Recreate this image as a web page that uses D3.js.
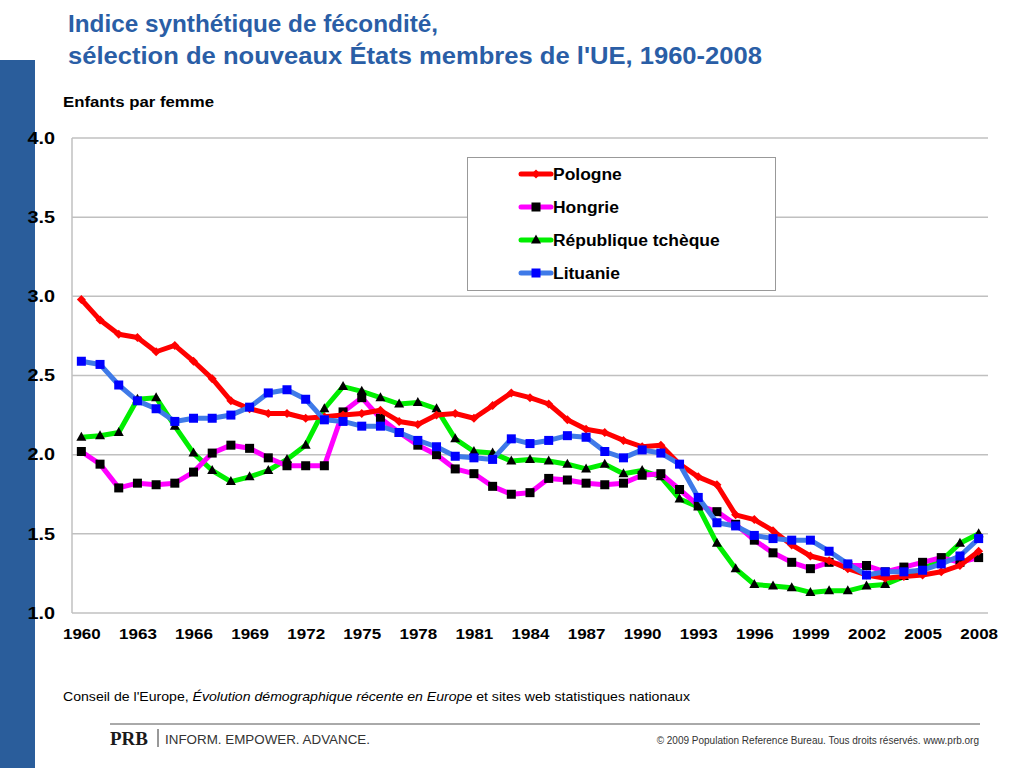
<!DOCTYPE html>
<html><head><meta charset="utf-8">
<script src="https://cdn.jsdelivr.net/npm/d3@7"></script>
<style>
body{margin:0;background:#fff;}
svg{display:block;font-family:"Liberation Sans",Arial,sans-serif;}
</style></head>
<body><svg id="c" width="1024" height="768"></svg>
<script>
const years = d3.range(1960, 2009);
const xTickYears = [1960,1963,1966,1969,1972,1975,1978,1981,1984,1987,1990,1993,1996,1999,2002,2005,2008];
const yTicks = [1.0,1.5,2.0,2.5,3.0,3.5,4.0];
const pologne = [2.98,2.85,2.76,2.74,2.65,2.69,2.59,2.48,2.34,2.29,2.26,2.26,2.23,2.24,2.25,2.26,2.28,2.21,2.19,2.25,2.26,2.23,2.31,2.39,2.36,2.32,2.22,2.16,2.14,2.09,2.05,2.06,1.94,1.86,1.81,1.62,1.59,1.52,1.43,1.36,1.33,1.28,1.24,1.22,1.23,1.24,1.26,1.30,1.39];
const hongrie = [2.02,1.94,1.79,1.82,1.81,1.82,1.89,2.01,2.06,2.04,1.98,1.93,1.93,1.93,2.27,2.36,2.23,2.14,2.06,2.00,1.91,1.88,1.80,1.75,1.76,1.85,1.84,1.82,1.81,1.82,1.87,1.88,1.78,1.68,1.64,1.56,1.46,1.38,1.32,1.28,1.32,1.30,1.30,1.26,1.29,1.32,1.35,1.32,1.35];
const tcheque = [2.11,2.12,2.14,2.35,2.36,2.18,2.01,1.90,1.83,1.86,1.90,1.97,2.06,2.29,2.43,2.40,2.36,2.32,2.33,2.29,2.10,2.02,2.01,1.96,1.97,1.96,1.94,1.91,1.94,1.88,1.90,1.86,1.72,1.67,1.44,1.28,1.18,1.17,1.16,1.13,1.14,1.14,1.17,1.18,1.23,1.28,1.33,1.44,1.50];
const lituanie = [2.59,2.57,2.44,2.34,2.29,2.21,2.23,2.23,2.25,2.30,2.39,2.41,2.35,2.22,2.21,2.18,2.18,2.14,2.09,2.05,1.99,1.98,1.97,2.10,2.07,2.09,2.12,2.11,2.02,1.98,2.03,2.01,1.94,1.73,1.57,1.55,1.49,1.47,1.46,1.46,1.39,1.31,1.24,1.26,1.26,1.27,1.31,1.36,1.47];
const seriesNames = ["Pologne","Hongrie","République tchèque","Lituanie"];

const series = [
  {name:seriesNames[0], values:pologne, line:"#ff0000", marker:"diamond", mfill:"#ff0000"},
  {name:seriesNames[1], values:hongrie, line:"#ff00ff", marker:"square", mfill:"#000000"},
  {name:seriesNames[2], values:tcheque, line:"#00ee00", marker:"triangle", mfill:"#000000"},
  {name:seriesNames[3], values:lituanie, line:"#3f7ae8", marker:"bsquare", mfill:"#0000ff"}
];

const svg = d3.select("#c");
const L=72, R=988, T=138, B=613;

function stretch(sel, f){
  sel.each(function(){
    const w = this.getComputedTextLength();
    this.setAttribute("textLength", (w*f).toFixed(1));
    this.setAttribute("lengthAdjust","spacingAndGlyphs");
  });
}

// left bar
svg.append("rect").attr("x",0).attr("y",60).attr("width",35).attr("height",708).attr("fill","#2a5d9b");

// title
const t1 = svg.append("text").attr("x",68).attr("y",32).attr("fill","#2a5ea6").attr("font-size",24).attr("font-weight","bold")
  .attr("textLength",370).attr("lengthAdjust","spacingAndGlyphs").text("Indice synthétique de fécondité,");
const t2 = svg.append("text").attr("x",68).attr("y",64).attr("fill","#2a5ea6").attr("font-size",24).attr("font-weight","bold")
  .attr("textLength",694).attr("lengthAdjust","spacingAndGlyphs").text("sélection de nouveaux États membres de l'UE, 1960-2008");

svg.append("text").attr("x",63).attr("y",107).attr("font-size",14.5).attr("font-weight","bold")
  .attr("textLength",151).attr("lengthAdjust","spacingAndGlyphs").text("Enfants par femme");

const x = d3.scalePoint().domain(years).range([L,R]).padding(0.5);
const y = d3.scaleLinear().domain([1,4]).range([B,T]);

// grid
svg.append("g").selectAll("line").data(yTicks).join("line")
  .attr("x1",L).attr("x2",R).attr("y1",d=>y(d)).attr("y2",d=>y(d))
  .attr("stroke","#c0c0c0").attr("stroke-width",1.5);
svg.append("line").attr("x1",L).attr("x2",L).attr("y1",T).attr("y2",B).attr("stroke","#c0c0c0").attr("stroke-width",1.5);

// y axis
const ya = svg.append("g").attr("transform",`translate(${L},0)`)
  .call(d3.axisLeft(y).tickValues(yTicks).tickFormat(d3.format(".1f")).tickSize(0).tickPadding(17));
ya.select(".domain").remove();
ya.selectAll("text").attr("font-size",16.5).attr("font-weight","bold").attr("fill","#000").attr("font-family","Liberation Sans, Arial, sans-serif");
stretch(ya.selectAll("text"),1.2);

// x axis
const xa = svg.append("g").attr("transform",`translate(0,${B})`)
  .call(d3.axisBottom(x).tickValues(xTickYears).tickSize(0).tickPadding(16));
xa.select(".domain").remove();
xa.selectAll("text").attr("font-size",14.5).attr("font-weight","bold").attr("fill","#000").attr("font-family","Liberation Sans, Arial, sans-serif");
stretch(xa.selectAll("text"),1.17);

function drawMarker(g, type, fill, cx, cy){
  if(type==="diamond"){
    g.append("path").attr("d",`M${cx},${cy-4.5}L${cx+4.5},${cy}L${cx},${cy+4.5}L${cx-4.5},${cy}Z`).attr("fill",fill);
  } else if(type==="square" || type==="bsquare"){
    g.append("rect").attr("x",cx-4.5).attr("y",cy-4.5).attr("width",9).attr("height",9).attr("fill",fill);
  } else {
    g.append("path").attr("d",`M${cx},${cy-5.5}L${cx+5},${cy+3.5}L${cx-5},${cy+3.5}Z`).attr("fill",fill);
  }
}

const line = d3.line().x((d,i)=>x(years[i])).y(d=>y(d));
const order = [2,1,0,3];
order.forEach(k=>{
  const s = series[k];
  const g = svg.append("g");
  g.append("path").attr("d",line(s.values)).attr("fill","none").attr("stroke",s.line).attr("stroke-width",5).attr("stroke-linejoin","round");
  s.values.forEach((v,i)=>drawMarker(g,s.marker,s.mfill,x(years[i]),y(v)));
});

// legend
const lg = svg.append("g");
lg.append("rect").attr("x",467.5).attr("y",157.5).attr("width",308).attr("height",133).attr("fill","#fff").attr("stroke","#999").attr("stroke-width",1);
series.forEach((s,i)=>{
  const ly = 174 + i*33;
  lg.append("line").attr("x1",521).attr("x2",551).attr("y1",ly).attr("y2",ly).attr("stroke",s.line).attr("stroke-width",5).attr("stroke-linecap","round");
  drawMarker(lg,s.marker,s.mfill,536,ly);
  const tx = lg.append("text").attr("x",553).attr("y",ly+6).attr("font-size",16).attr("font-weight","bold").text(s.name);
  stretch(tx,1.09);
});

// source
const src = svg.append("text").attr("x",63).attr("y",701).attr("font-size",13);
src.append("tspan").text("Conseil de l'Europe, ");
src.append("tspan").attr("font-style","italic").text("Évolution démographique récente en Europe");
src.append("tspan").text(" et sites web statistiques nationaux");
src.attr("textLength",627).attr("lengthAdjust","spacingAndGlyphs");

svg.append("line").attr("x1",110).attr("x2",980).attr("y1",724).attr("y2",724).attr("stroke","#555").attr("stroke-width",1);
svg.append("text").attr("x",110).attr("y",745).attr("font-family","Liberation Serif, Times New Roman, serif").attr("font-weight","bold").attr("font-size",19).attr("fill","#1a1a1a").text("PRB");
svg.append("line").attr("x1",158).attr("x2",158).attr("y1",729).attr("y2",747).attr("stroke","#333").attr("stroke-width",1);
svg.append("text").attr("x",165).attr("y",744).attr("font-size",13).attr("fill","#333").attr("textLength",205).attr("lengthAdjust","spacingAndGlyphs").text("INFORM. EMPOWER. ADVANCE.");
svg.append("text").attr("x",979).attr("y",744).attr("text-anchor","end").attr("font-size",10).attr("fill","#333").text("© 2009 Population Reference Bureau. Tous droits réservés. www.prb.org");
</script></body></html>
